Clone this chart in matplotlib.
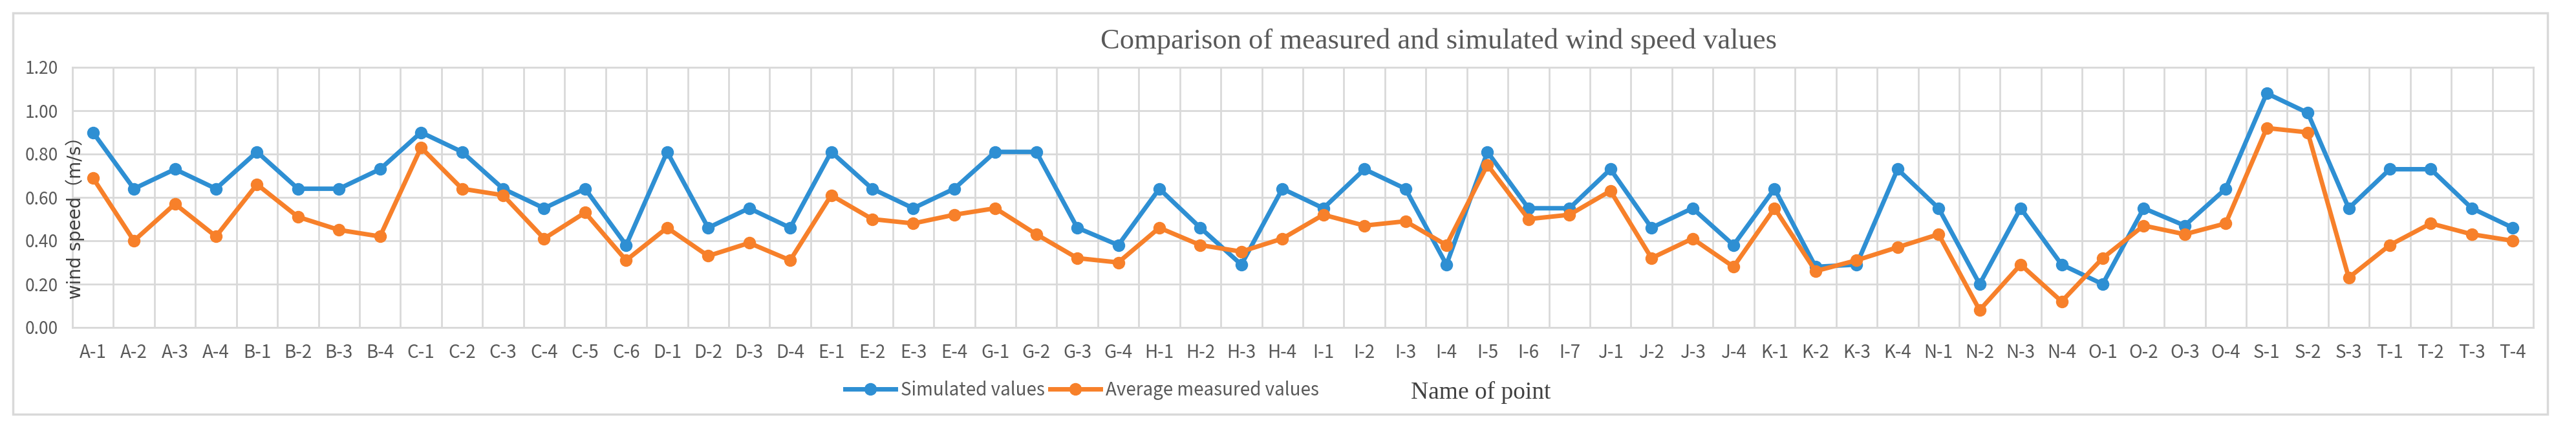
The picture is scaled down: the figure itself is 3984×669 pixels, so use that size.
import matplotlib
matplotlib.use("Agg")
import matplotlib.pyplot as plt
from matplotlib.patches import Rectangle

points = ["A-1", "A-2", "A-3", "A-4", "B-1", "B-2", "B-3", "B-4",
          "C-1", "C-2", "C-3", "C-4", "C-5", "C-6",
          "D-1", "D-2", "D-3", "D-4", "E-1", "E-2", "E-3", "E-4",
          "G-1", "G-2", "G-3", "G-4", "H-1", "H-2", "H-3", "H-4",
          "I-1", "I-2", "I-3", "I-4", "I-5", "I-6", "I-7",
          "J-1", "J-2", "J-3", "J-4", "K-1", "K-2", "K-3", "K-4",
          "N-1", "N-2", "N-3", "N-4", "O-1", "O-2", "O-3", "O-4",
          "S-1", "S-2", "S-3", "T-1", "T-2", "T-3", "T-4"]

simulated = [0.90, 0.64, 0.73, 0.64, 0.81, 0.64, 0.64, 0.73,
             0.90, 0.81, 0.64, 0.55, 0.64, 0.38,
             0.81, 0.46, 0.55, 0.46, 0.81, 0.64, 0.55, 0.64,
             0.81, 0.81, 0.46, 0.38, 0.64, 0.46, 0.29, 0.64,
             0.55, 0.73, 0.64, 0.29, 0.81, 0.55, 0.55,
             0.73, 0.46, 0.55, 0.38, 0.64, 0.28, 0.29, 0.73,
             0.55, 0.20, 0.55, 0.29, 0.20, 0.55, 0.47, 0.64,
             1.08, 0.99, 0.55, 0.73, 0.73, 0.55, 0.46]

measured = [0.69, 0.40, 0.57, 0.42, 0.66, 0.51, 0.45, 0.42,
            0.83, 0.64, 0.61, 0.41, 0.53, 0.31,
            0.46, 0.33, 0.39, 0.31, 0.61, 0.50, 0.48, 0.52,
            0.55, 0.43, 0.32, 0.30, 0.46, 0.38, 0.35, 0.41,
            0.52, 0.47, 0.49, 0.38, 0.75, 0.50, 0.52,
            0.63, 0.32, 0.41, 0.28, 0.55, 0.26, 0.31, 0.37,
            0.43, 0.08, 0.29, 0.12, 0.32, 0.47, 0.43, 0.48,
            0.92, 0.90, 0.23, 0.38, 0.48, 0.43, 0.40]

y_ticks = [0.0, 0.2, 0.4, 0.6, 0.8, 1.0, 1.2]

W, H = 3984, 669
fig = plt.figure(figsize=(W / 100, H / 100), dpi=100)

# outer chart frame
fig.patches.append(Rectangle((20 / W, 1 - 640 / H), 3920 / W, 620 / H,
                             transform=fig.transFigure, fill=False,
                             edgecolor="#d9d9d9", linewidth=2.5))

ax = fig.add_axes([112 / W, 1 - 506 / H, 3806 / W, 402 / H])

x = list(range(len(points)))
blue = "#2E8FD3"
orange = "#F7802A"
ax.plot(x, simulated, "-o", color=blue, lw=5, ms=13, label="Simulated values")
ax.plot(x, measured, "-o", color=orange, lw=5, ms=13, label="Average measured values")

ax.set_xlim(-0.5, len(points) - 0.5)
ax.set_ylim(0, 1.2)
ax.set_xticks(x)
ax.set_xticklabels(points)
ax.set_xticks([i - 0.5 for i in range(len(points) + 1)], minor=True)
ax.set_yticks(y_ticks)
ax.set_yticklabels([f"{v:.2f}" for v in y_ticks])

ax.grid(True, which="minor", axis="x", color="#d9d9d9", lw=2)
ax.grid(True, which="major", axis="y", color="#d9d9d9", lw=2)
ax.grid(False, which="major", axis="x")
ax.set_axisbelow(True)
for s in ax.spines.values():
    s.set_color("#d9d9d9")
    s.set_linewidth(2)

tick_font = ["Noto Sans CJK SC", "DejaVu Sans"]
ax.tick_params(axis="both", which="both", length=0)
ax.tick_params(axis="x", pad=17, labelsize=20, labelcolor="#595959")
ax.tick_params(axis="y", pad=16, labelsize=19, labelcolor="#595959")
for lab in ax.get_xticklabels() + ax.get_yticklabels():
    lab.set_fontfamily(tick_font)

fig.text(2225 / W, 1 - 64 / H, "Comparison of measured and simulated wind speed values",
         ha="center", va="center", fontsize=32, color="#595959",
         family="Liberation Serif")
fig.text(2290 / W, 1 - 606 / H, "Name of point", ha="center", va="center",
         fontsize=27, color="#404040", family="Liberation Serif")
fig.text(116 / W, 1 - 330 / H, "wind speed（m/s）", ha="center", va="center",
         rotation=90, fontsize=20, color="#404040",
         family=["DejaVu Sans", "Noto Sans CJK SC"])

leg = fig.legend(loc="center left", bbox_to_anchor=(1307 / W, 1 - 603 / H),
                 ncol=2, frameon=False, handlelength=2.8,
                 handletextpad=0.3, columnspacing=0.3, borderpad=0,
                 borderaxespad=0, prop={"family": tick_font, "size": 20})
for t in leg.get_texts():
    t.set_color("#595959")

fig.savefig("out.png", dpi=100)
